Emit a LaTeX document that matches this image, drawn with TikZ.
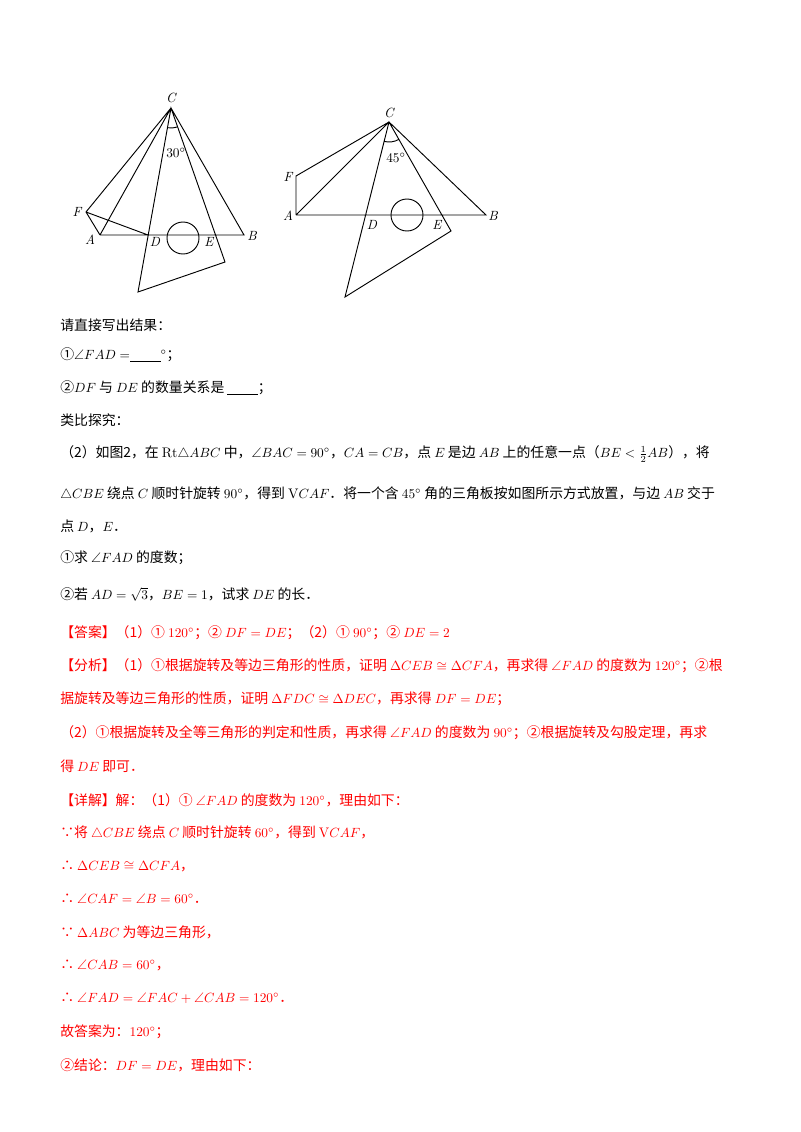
\documentclass[tikz,border=0pt]{standalone}
\usepackage{fontspec}
\usepackage{amssymb}
\usetikzlibrary{calc}
\newfontfamily\cjk{Noto Sans CJK SC}
\begin{document}
\begin{tikzpicture}[x=0.75pt,y=-0.75pt,
  geo/.style={line width=0.7pt},
  lbl/.style={font=\itshape\fontsize{10}{10}\selectfont,inner sep=0pt},
  txt/.style={anchor=west,inner sep=0pt,font=\cjk\fontsize{10.4}{12}\selectfont},
  rtxt/.style={txt,text=red}]
\useasboundingbox (0,0) rectangle (800,1132);
% Figure 1
\coordinate (C1) at (171,108); \coordinate (F1) at (86,212); \coordinate (A1) at (100,235);
\coordinate (D1) at (148,235); \coordinate (B1) at (244,235);
\coordinate (P1) at (138,292); \coordinate (Q1) at (225,262);
\draw[geo] (A1)--(B1)--(C1)--(A1) (C1)--(F1)--(A1) (F1)--(D1) (C1)--(P1)--(Q1)--cycle;
\draw[geo] (183,238) circle (16);
\draw[geo] ($(C1)!15pt!(P1)$) arc[start angle=100.2,end angle=70.7,radius=20];
\node[lbl] at (171,98) {C}; \node[lbl] at (77,212) {F}; \node[lbl] at (90,240) {A};
\node[lbl] at (155,242) {D}; \node[lbl] at (209,242) {E}; \node[lbl] at (252,236) {B};
\node[inner sep=0pt,font=\fontsize{10}{10}\selectfont] at (176,153) {30$^\circ$};
% Figure 2
\coordinate (C2) at (389,122); \coordinate (F2) at (296,176); \coordinate (A2) at (296,215);
\coordinate (B2) at (486,215); \coordinate (P2) at (345,297); \coordinate (Q2) at (451,231);
\draw[geo] (A2)--(B2)--(C2)--(A2) (C2)--(F2)--(A2) (C2)--(P2)--(Q2)--cycle;
\draw[geo] (407,215) circle (16);
\draw[geo] ($(C2)!15pt!(P2)$) arc[start angle=104.1,end angle=60.4,radius=20];
\node[lbl] at (389,113) {C}; \node[lbl] at (288,177) {F}; \node[lbl] at (288,216) {A};
\node[lbl] at (372,225) {D}; \node[lbl] at (437,225) {E}; \node[lbl] at (493,216) {B};
\node[inner sep=0pt,font=\fontsize{10}{10}\selectfont] at (396,158) {45$^\circ$};
% Text
\node[txt] (t1) at (60,325) {请直接写出结果：};
\node[txt] (t2) at (60,355) {①$\angle FAD=$\underline{\hspace{2.2em}}$^\circ$；};
\node[txt] (t3) at (60,388) {②$DF$ 与 $DE$ 的数量关系是 \underline{\hspace{2.2em}}；};
\node[txt] (t4) at (60,420) {类比探究：};
\node[txt] (t5) at (60,454) {（2）如图2，在 $\mathrm{Rt}\triangle ABC$ 中，$\angle BAC=90^\circ$，$CA=CB$，点 $E$ 是边 $AB$ 上的任意一点（$BE<\frac12AB$），将};
\node[txt] (t6) at (60,494) {$\triangle CBE$ 绕点 $C$ 顺时针旋转 $90^\circ$，得到 $\mathrm{V}CAF$．将一个含 $45^\circ$ 角的三角板按如图所示方式放置，与边 $AB$ 交于};
\node[txt] (t7) at (60,526) {点 $D$，$E$．};
\node[txt] (t8) at (60,558) {①求 $\angle FAD$ 的度数；};
\node[txt] (t9) at (60,594) {②若 $AD=\sqrt3$，$BE=1$，试求 $DE$ 的长．};
\node[rtxt] at (60,633) {【答案】（1）① $120^\circ$；② $DF=DE$；（2）① $90^\circ$；② $DE=2$};
\node[rtxt] at (60,666) {【分析】（1）①根据旋转及等边三角形的性质，证明 $\Delta CEB\cong\Delta CFA$，再求得 $\angle FAD$ 的度数为 $120^\circ$；②根};
\node[rtxt] at (60,699) {据旋转及等边三角形的性质，证明 $\Delta FDC\cong\Delta DEC$，再求得 $DF=DE$；};
\node[rtxt] at (60,733) {（2）①根据旋转及全等三角形的判定和性质，再求得 $\angle FAD$ 的度数为 $90^\circ$；②根据旋转及勾股定理，再求};
\node[rtxt] at (60,766) {得 $DE$ 即可．};
\node[rtxt] at (60,800) {【详解】解：（1）① $\angle FAD$ 的度数为 $120^\circ$，理由如下：};
\node[rtxt] at (60,833) {∵将 $\triangle CBE$ 绕点 $C$ 顺时针旋转 $60^\circ$，得到 $\mathrm{V}CAF$，};
\node[rtxt] at (60,866) {∴ $\Delta CEB\cong\Delta CFA$，};
\node[rtxt] at (60,899) {∴ $\angle CAF=\angle B=60^\circ$．};
\node[rtxt] at (60,932) {∵ $\Delta ABC$ 为等边三角形，};
\node[rtxt] at (60,965) {∴ $\angle CAB=60^\circ$，};
\node[rtxt] at (60,998) {∴ $\angle FAD=\angle FAC+\angle CAB=120^\circ$．};
\node[rtxt] at (60,1032) {故答案为：$120^\circ$；};
\node[rtxt] at (60,1065) {②结论：$DF=DE$，理由如下：};
\end{tikzpicture}
\end{document}
